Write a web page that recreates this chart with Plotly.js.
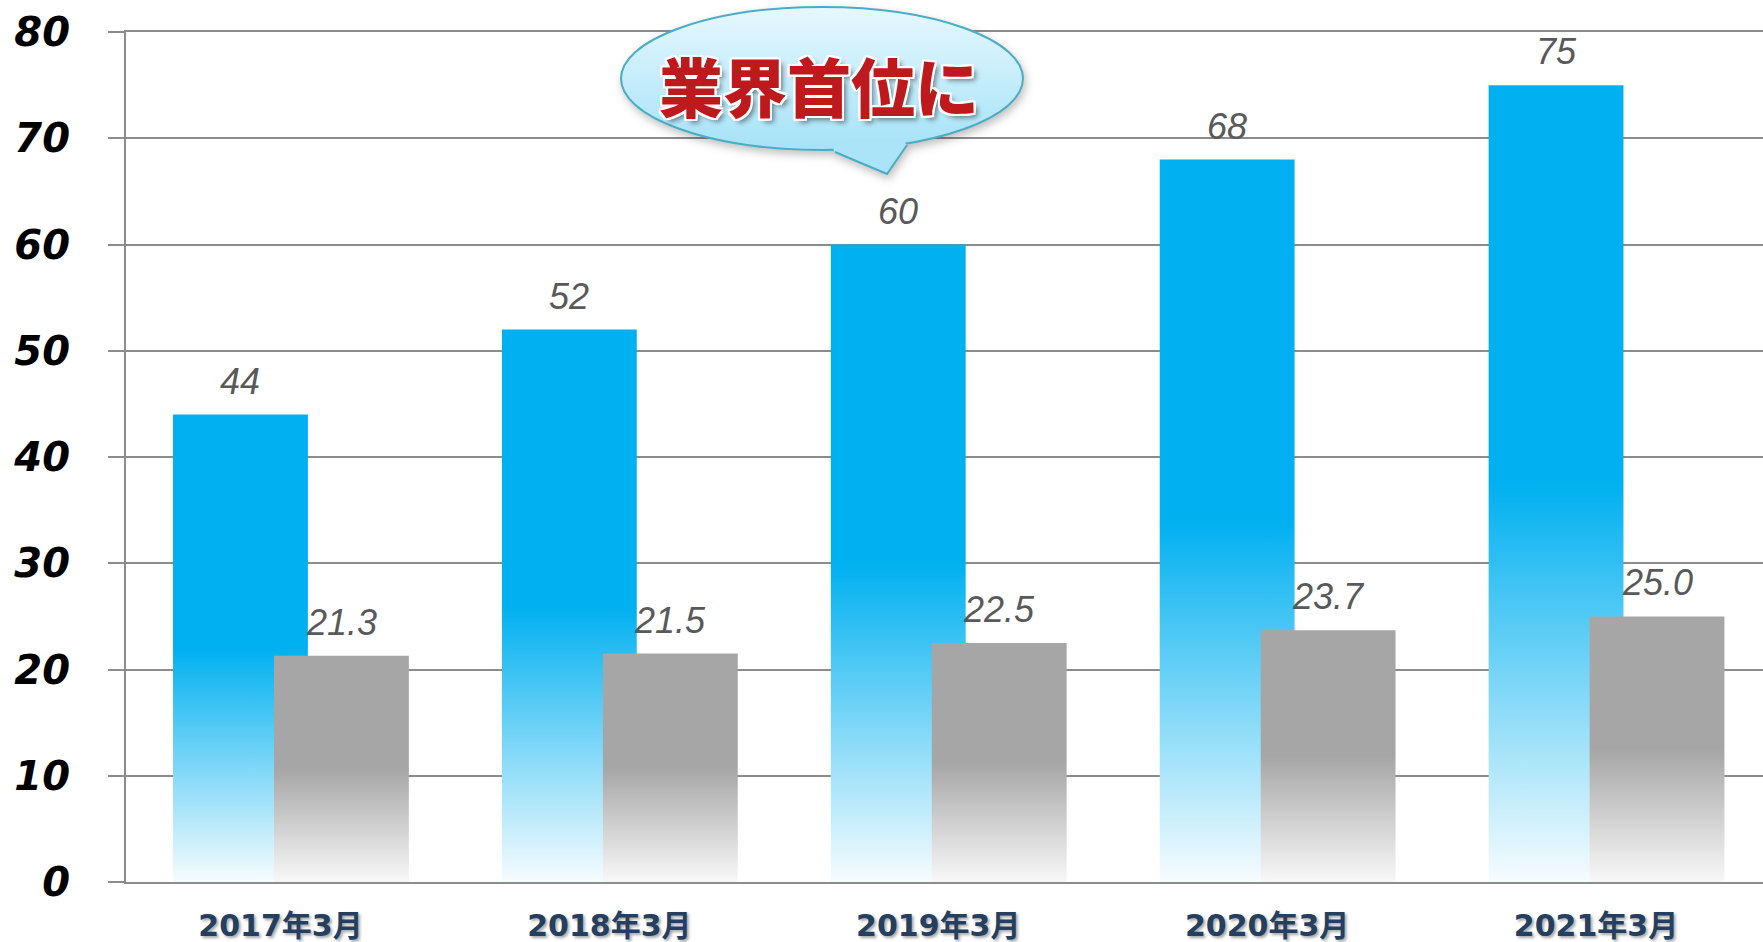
<!DOCTYPE html>
<html><head><meta charset="utf-8">
<script src="https://cdn.plot.ly/plotly-3.0.1.min.js"></script>
<style>html,body{margin:0;padding:0;background:#fff;overflow:hidden;} #chart{width:1763px;height:942px;}</style>
</head><body><div id="chart"></div>
<script>
// ---- data ----
const categories = ['2017年3月', '2018年3月', '2019年3月', '2020年3月', '2021年3月'];
const seriesBlue = [44, 52, 60, 68, 75];
const seriesGray = [21.3, 21.5, 22.5, 23.7, 25.0];
const labelsBlue = ['44', '52', '60', '68', '75'];
const labelsGray = ['21.3', '21.5', '22.5', '23.7', '25.0'];
const yTickVals = [0, 10, 20, 30, 40, 50, 60, 70, 80];
const calloutText = '業界首位に';

// ---- layout constants ----
const W = 1763, H = 942;
const M = {l: 126, r: 0, t: 32, b: 60};
const BAR_W = 0.41, OFF_BLUE = -0.357, OFF_GRAY = -0.05;
const plotW = W - M.l - M.r, plotH = H - M.t - M.b;
const px = x => (x - M.l) / plotW;          // pixel x -> paper
const py = y => (H - M.b - y) / plotH;      // pixel y -> paper

const idx = categories.map((c, i) => i);
const valFont = {family: 'Liberation Sans, Arial, sans-serif', size: 36, color: '#595959', style: 'italic'};

const traces = [
  {type: 'bar', x: categories, y: seriesBlue, width: BAR_W, offset: OFF_BLUE,
   marker: {color: '#00B0F0', line: {width: 0}}, hoverinfo: 'skip'},
  {type: 'bar', x: categories, y: seriesGray, width: BAR_W, offset: OFF_GRAY,
   marker: {color: '#A6A6A6', line: {width: 0}}, hoverinfo: 'skip'}
];

const annotations = [];
idx.forEach(i => {
  annotations.push({x: i + OFF_BLUE + BAR_W / 2, y: seriesBlue[i], xref: 'x', yref: 'y', text: labelsBlue[i],
    showarrow: false, yanchor: 'bottom', xanchor: 'center', yshift: 11, font: valFont});
  annotations.push({x: i + OFF_GRAY + BAR_W / 2, y: seriesGray[i], xref: 'x', yref: 'y', text: labelsGray[i],
    showarrow: false, yanchor: 'bottom', xanchor: 'center', yshift: 11, font: valFont});
});
annotations.push({
  x: px(819), y: py(84), xref: 'paper', yref: 'paper', text: calloutText, showarrow: false,
  xanchor: 'center', yanchor: 'middle',
  font: {family: 'Noto Sans CJK JP, sans-serif', size: 64, weight: 900, color: '#BE1A1E',
    shadow: '-2px 0 0 #fff, 2px 0 0 #fff, 0 -2px 0 #fff, 0 2px 0 #fff, -2px -2px 0 #fff, 2px 2px 0 #fff, -2px 2px 0 #fff, 2px -2px 0 #fff, 4px 4px 5px rgba(0,0,0,0.45)'}
});

const calloutLine = {color: '#4BACC6', width: 2};
const shapes = [
  {type: 'circle', xref: 'paper', yref: 'paper', x0: px(621), x1: px(1023), y0: py(150), y1: py(7),
   fillcolor: '#c4edfb', line: calloutLine, layer: 'above'},
  {type: 'path', xref: 'paper', yref: 'paper', layer: 'above', fillcolor: '#abe4f8', line: {width: 0},
   path: `M${px(832)},${py(145)} L${px(835)},${py(153)} L${px(887)},${py(174)} L${px(907)},${py(146)} L${px(904)},${py(140)} Z`},
  {type: 'path', xref: 'paper', yref: 'paper', layer: 'above', fillcolor: 'rgba(0,0,0,0)', line: calloutLine,
   path: `M${px(835)},${py(152)} L${px(887)},${py(174)} L${px(907)},${py(145)}`}
];

const gridColor = '#8c8c8c';
const layout = {
  width: W, height: H, margin: M, showlegend: false, barmode: 'overlay',
  paper_bgcolor: '#ffffff', plot_bgcolor: '#ffffff',
  xaxis: {type: 'category', range: [-0.5, -0.5 + plotW / 328.9], showgrid: false, zeroline: false,
    showline: true, mirror: true, linecolor: gridColor, linewidth: 2, ticks: '', ticklabelstandoff: 16,
    ticklabelshift: -10,
    tickfont: {family: 'DejaVu Sans, Noto Sans CJK JP, sans-serif', size: 30, weight: 'bold', color: '#243F60',
      shadow: '2px 2px 3px rgba(0,0,0,0.35)'}},
  yaxis: {range: [0, 80], tickvals: yTickVals, ticks: 'outside', ticklen: 16, tickwidth: 2, tickcolor: gridColor,
    showline: true, linecolor: gridColor, linewidth: 2, showgrid: true, gridcolor: gridColor, gridwidth: 2,
    zeroline: false, ticklabelstandoff: 30,
    tickfont: {family: 'DejaVu Sans, sans-serif', size: 40, weight: 'bold', style: 'italic', color: '#000000'}},
  annotations: annotations, shapes: shapes
};

function decorate() {
  const gd = document.getElementById('chart');
  const svg = gd.querySelector('svg.main-svg');
  if (!svg) return;
  const ns = 'http://www.w3.org/2000/svg';
  let defs = svg.querySelector('defs');
  if (!defs) { defs = document.createElementNS(ns, 'defs'); svg.insertBefore(defs, svg.firstChild); }
  function mk(id, stops) {
    if (document.getElementById(id)) return;
    const g = document.createElementNS(ns, 'linearGradient');
    g.setAttribute('id', id);
    g.setAttribute('x1', '0'); g.setAttribute('y1', '0'); g.setAttribute('x2', '0'); g.setAttribute('y2', '1');
    stops.forEach(([o, c]) => {
      const s = document.createElementNS(ns, 'stop');
      s.setAttribute('offset', o); s.setAttribute('stop-color', c); g.appendChild(s);
    });
    defs.appendChild(g);
  }
  mk('gradBlue', [[0, '#00B0F0'], [0.5, '#00B0F0'], [1, '#F7FCFE']]);
  mk('gradGray', [[0, '#A6A6A6'], [0.5, '#A6A6A6'], [1, '#F8F8F8']]);
  mk('gradCallout', [[0, '#E6F8FE'], [1, '#A6E2F8']]);
  gd.querySelectorAll('.barlayer .trace').forEach((t, i) => {
    t.querySelectorAll('path').forEach(p => { p.style.fill = 'url(#' + (i === 0 ? 'gradBlue' : 'gradGray') + ')'; });
  });
  const sh = gd.querySelectorAll('.layer-above .shapelayer path');
  if (sh[0]) sh[0].style.fill = 'url(#gradCallout)';
  const sl = gd.querySelector('.layer-above .shapelayer');
  if (sl) sl.style.filter = 'drop-shadow(2px 4px 4px rgba(0,0,0,0.25))';
}

Plotly.newPlot('chart', traces, layout, {staticPlot: true, displayModeBar: false}).then(gd => {
  decorate();
  gd.on && gd.on('plotly_afterplot', decorate);
});
</script>
</body></html>
